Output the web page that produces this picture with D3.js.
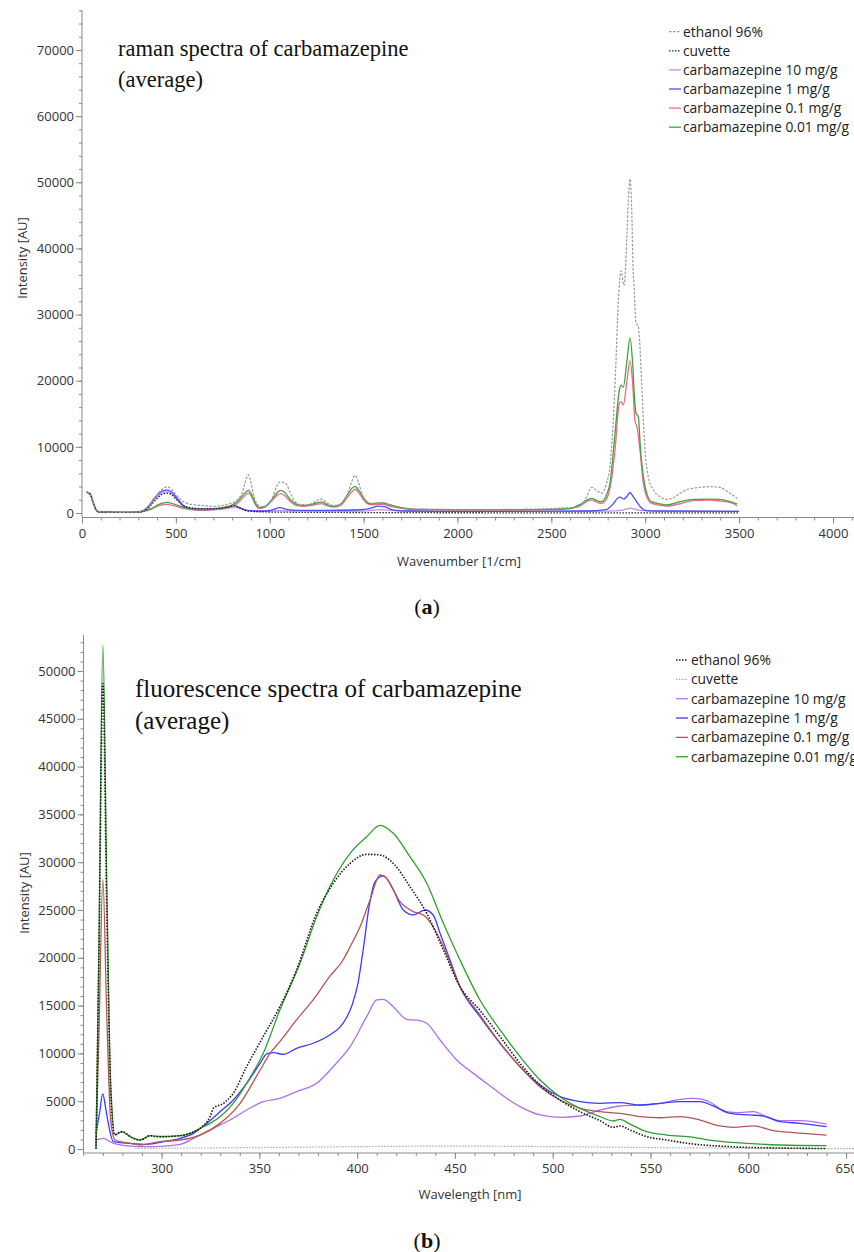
<!DOCTYPE html>
<html><head><meta charset="utf-8">
<script src="https://cdn.jsdelivr.net/npm/d3@7"></script>
<style>body{margin:0;background:#fff}svg{display:block}</style>
</head><body>
<svg id="chart" width="854" height="1252"></svg>
<script>
// ---------------- Panel (a): Raman spectra ----------------
const ramanSeriesNames = ["ethanol 96%", "cuvette", "carbamazepine 10 mg/g", "carbamazepine 1 mg/g", "carbamazepine 0.1 mg/g", "carbamazepine 0.01 mg/g"];
const ramanXTicks = [0, 500, 1000, 1500, 2000, 2500, 3000, 3500, 4000];
const ramanYTicks = [0, 10000, 20000, 30000, 40000, 50000, 60000, 70000];

const ramanEthanol = [[25,3150],[45,2800],[60,1600],[75,500],[90,200],[120,150],[200,100],[280,120],[320,300],[350,900],[380,1900],[410,3100],[440,3850],[455,3950],[475,3650],[500,2800],[530,1900],[560,1450],[600,1250],[650,1100],[700,1000],[750,1150],[790,1450],[830,2100],[855,3200],[875,5200],[886,5800],[898,4800],[915,2600],[935,1300],[955,950],[980,1050],[1010,2000],[1035,3900],[1055,4700],[1075,4600],[1090,4300],[1110,3000],[1135,1700],[1170,1250],[1210,1300],[1245,1750],[1270,2150],[1290,1900],[1315,1350],[1345,1150],[1380,1400],[1410,2600],[1435,4600],[1454,5700],[1470,4800],[1495,2700],[1520,1650],[1545,1450],[1575,1550],[1600,1600],[1640,1300],[1700,850],[1780,600],[1900,550],[2100,520],[2300,550],[2480,650],[2560,750],[2640,900],[2680,2000],[2715,3880],[2745,3300],[2768,3000],[2795,4600],[2812,7000],[2828,13000],[2840,20000],[2857,32000],[2871,36600],[2887,34400],[2903,42200],[2910,47300],[2919,50500],[2929,44700],[2935,37200],[2940,34700],[2951,28600],[2962,28300],[2970,26000],[2981,19600],[2990,14000],[2999,9500],[3016,5500],[3043,3500],[3079,2450],[3114,2050],[3150,2300],[3185,2950],[3220,3500],[3256,3750],[3300,3900],[3345,3980],[3398,3880],[3430,3400],[3451,3000],[3490,2200]];
const ramanCuvette = [[25,3150],[45,2800],[60,1600],[75,500],[90,150],[150,100],[250,80],[310,150],[350,700],[390,1900],[425,2800],[450,3000],[475,2800],[505,2000],[540,1150],[580,800],[650,650],[720,700],[780,900],[810,1100],[840,800],[880,300],[950,180],[1100,120],[1400,80],[1700,50],[2500,30],[3000,30],[3500,30]];
const ramanC10 = [[25,3100],[45,2800],[60,1500],[75,450],[90,150],[150,100],[250,80],[310,150],[350,800],[390,2200],[425,3000],[450,3200],[475,3000],[505,2100],[540,1000],[580,600],[650,450],[720,500],[780,750],[810,900],[840,700],[880,350],[950,250],[1050,350],[1200,300],[1500,300],[1590,500],[1700,300],[2000,250],[2500,250],[2800,280],[2880,450],[2920,700],[2960,450],[3050,280],[3500,250]];
const ramanC1 = [[25,3150],[45,2800],[60,1600],[75,500],[90,200],[150,150],[250,100],[310,200],[350,900],[390,2400],[425,3300],[450,3450],[475,3250],[505,2300],[540,1100],[580,700],[650,600],[720,650],[780,950],[810,1150],[840,800],[880,400],[950,300],[1010,450],[1055,800],[1090,550],[1150,400],[1300,400],[1450,450],[1530,650],[1580,1050],[1610,950],[1660,450],[1750,300],[2000,250],[2500,280],[2700,300],[2790,500],[2830,1400],[2855,2300],[2866,2400],[2885,2100],[2905,2600],[2919,3100],[2935,2500],[2955,1700],[2975,900],[3000,400],[3050,300],[3500,250]];
const ramanC01 = [[25,3100],[45,2700],[60,1500],[75,450],[90,150],[150,100],[250,80],[320,200],[370,600],[410,1100],[450,1310],[490,1100],[540,700],[600,450],[650,400],[700,500],[750,650],[790,900],[830,1500],[860,2400],[886,3030],[905,2400],[925,1200],[945,700],[975,900],[1010,1800],[1040,2700],[1058,2930],[1080,2600],[1110,1700],[1145,1100],[1180,1000],[1220,1150],[1255,1350],[1277,1410],[1300,1150],[1339,910],[1380,1200],[1415,2400],[1440,3300],[1454,3590],[1470,3200],[1500,2000],[1525,1350],[1545,1260],[1575,1300],[1600,1310],[1640,1050],[1700,700],[1780,500],[2000,450],[2300,450],[2500,500],[2600,650],[2660,1200],[2700,1900],[2715,1960],[2745,1600],[2768,1460],[2800,2500],[2820,5000],[2839,9500],[2862,16570],[2871,16820],[2883,16320],[2901,19590],[2919,23000],[2933,19590],[2945,14050],[2958,12790],[2972,9520],[2990,4480],[3008,2460],[3034,1460],[3080,1150],[3114,1060],[3185,1400],[3256,1860],[3345,1960],[3400,1800],[3451,1600],[3490,1110]];
const ramanC001 = [[25,3150],[45,2800],[60,1600],[75,500],[90,200],[150,150],[250,100],[320,250],[370,700],[410,1300],[450,1620],[490,1350],[540,850],[600,550],[650,500],[700,600],[750,800],[790,1100],[830,1800],[860,2800],[886,3430],[905,2700],[925,1400],[945,800],[975,1000],[1010,2000],[1040,3100],[1058,3430],[1080,3100],[1110,2000],[1145,1300],[1180,1160],[1220,1300],[1255,1550],[1277,1670],[1300,1350],[1339,1010],[1380,1400],[1415,2800],[1440,3800],[1454,4040],[1470,3600],[1500,2300],[1525,1500],[1545,1410],[1575,1480],[1600,1510],[1640,1200],[1700,800],[1780,550],[2000,500],[2300,500],[2500,560],[2600,700],[2660,1400],[2700,2100],[2715,2210],[2745,1850],[2768,1710],[2795,2800],[2812,4480],[2839,12000],[2862,18580],[2871,19340],[2883,18990],[2901,22600],[2919,26480],[2933,22600],[2945,16570],[2951,15060],[2963,14550],[2975,9520],[2990,5490],[3008,2970],[3034,1710],[3079,1360],[3114,1210],[3185,1710],[3256,2060],[3345,2110],[3398,2060],[3451,1710],[3490,1360]];

// ---------------- Panel (b): Fluorescence spectra ----------------
const fluoSeriesNames = ["ethanol 96%", "cuvette", "carbamazepine 10 mg/g", "carbamazepine 1 mg/g", "carbamazepine 0.1 mg/g", "carbamazepine 0.01 mg/g"];
const fluoXTicks = [300, 350, 400, 450, 500, 550, 600, 650];
const fluoYTicks = [0, 5000, 10000, 15000, 20000, 25000, 30000, 35000, 40000, 45000, 50000];

const fluoEthanol = [[266.5,0],[268,20000],[270,48700],[272,25000],[274,6000],[276,1500],[278,1700],[280,1820],[282,1600],[284,1290],[289,940],[292,1200],[294,1390],[297,1300],[300,1290],[309.5,1390],[314.6,1640],[319.7,2160],[324.8,3380],[326.5,4250],[331.6,4780],[336.7,5830],[343.5,8620],[352,11760],[360.5,14890],[369,18720],[379.3,24650],[387.8,27790],[396.4,29880],[404.9,30820],[411.7,30760],[418.5,29880],[427,27440],[435.6,24650],[444.1,20820],[452.6,16980],[462.8,14500],[473.1,11750],[483.3,8960],[493.5,6690],[503.7,5120],[514,3900],[524.2,2960],[531,2270],[534.4,2410],[539.5,1990],[548.1,1290],[558.3,940],[571.9,520],[590.6,240],[616.2,100],[640,50]];
const fluoCuvette = [[286.5,50],[300,80],[350,150],[400,250],[450,300],[500,250],[550,150],[600,80],[660,40]];
const fluoC10 = [[266.5,940],[270.3,1120],[272.5,900],[275.4,590],[284,310],[292.5,240],[301,310],[309.5,490],[318,1290],[326.5,2160],[335,3030],[343.5,4080],[352,4950],[360.5,5300],[369,6000],[379.3,6870],[387.8,8610],[396.4,10700],[404.9,13850],[410,15590],[413.4,15660],[418.5,14890],[425.3,13570],[432.1,13430],[435.6,13150],[442.4,11400],[450.9,9310],[459.4,7910],[469.6,6350],[476.4,5300],[483.3,4430],[493.5,3560],[503.7,3310],[514,3450],[524.2,4080],[534.4,4500],[544.7,4600],[554.9,4780],[565.1,5200],[571.9,5300],[578.7,5070],[588.9,3900],[595,3800],[602.6,3900],[609.4,3380],[616.2,2960],[626.4,2960],[640,2610]];
const fluoC1 = [[266.5,1640],[268.5,4000],[269.9,5800],[271.5,4200],[272.8,2680],[275.4,770],[284,590],[292.5,490],[301,770],[309.5,1120],[316.3,1640],[323.1,2680],[329.9,3900],[336.7,5130],[343.5,6870],[350.4,8960],[353.8,9940],[357.2,10080],[362.3,9900],[369,10530],[377.5,11060],[386,11930],[391,12700],[394.5,13700],[397.5,15100],[400.5,17400],[403.2,21000],[406,25200],[409,27900],[413.4,28560],[418.5,27090],[423.6,25000],[428.7,24480],[434.7,25000],[438.9,24480],[442.4,22560],[447.5,19770],[452.6,16980],[462.8,13840],[473.1,11060],[483.3,8610],[493.5,6690],[503.7,5470],[514,4950],[524.2,4780],[534.4,4850],[544.7,4600],[554.9,4780],[565.1,4950],[575.3,4950],[582.1,4500],[590.6,3730],[600.9,3560],[607.7,3450],[616.2,2860],[626.4,2690],[640,2330]];
const fluoC01 = [[266.5,300],[268,12000],[270,28200],[272,14000],[274,3000],[276.3,940],[284,590],[289,420],[299.3,770],[309.5,940],[319.7,1460],[329.9,2680],[340.2,4780],[350.4,8260],[355.5,10010],[360.5,11230],[369,13500],[377.5,15600],[386,18050],[392.8,19770],[396.4,21160],[401.5,23250],[406.6,26050],[411.7,28660],[415.1,28310],[421.9,25870],[428.7,24830],[433.8,24480],[438.9,23250],[444.1,21160],[452.6,16980],[462.8,14020],[473.1,11060],[483.3,8610],[493.5,6520],[503.7,5120],[514,4250],[524.2,3900],[534.4,3730],[544.7,3380],[554.9,3270],[565.1,3380],[575.3,3030],[585.5,2410],[592.4,2270],[602.6,2410],[612.8,1920],[623,1710],[640,1460]];
const fluoC001 = [[266.5,0],[268,22000],[270,52700],[272,28000],[274,7000],[276.3,1464],[279.7,1820],[284,1290],[289,940],[294.2,1390],[299.3,1290],[309.5,1390],[314.6,1640],[319.7,2160],[324.8,2680],[329.9,3380],[336.7,4780],[343.5,6870],[352,10010],[360.5,14540],[370.8,19420],[379.3,24300],[387.8,28140],[396.4,30930],[404.9,32670],[411.7,33860],[418.5,33020],[427,30580],[435.6,27790],[444.1,23610],[452.6,19770],[462.8,15590],[473.1,12450],[483.3,9660],[493.5,7220],[503.7,5470],[514,4250],[524.2,3380],[531,2930],[534.4,3100],[539.5,2610],[548.1,1810],[558.3,1460],[571.9,1220],[582.1,870],[599.2,590],[616.2,420],[640,350]];

// ---------------- drawing ----------------
const svg = d3.select("#chart");
const SANS = "'Open Sans', 'Noto Sans', sans-serif";
const SERIF = "'Liberation Serif', 'DejaVu Serif', serif";
const AXIS_COLOR = "#8a8a8a";
const TEXT_COLOR = "#333";

function drawPanel(cfg) {
  const g = svg.append("g");
  const x = cfg.x, y = cfg.y;
  const clipId = cfg.id + "-clip";
  svg.append("defs").append("clipPath").attr("id", clipId)
    .append("rect").attr("x", cfg.axisX).attr("y", cfg.axisTop)
    .attr("width", 854 - cfg.axisX).attr("height", cfg.axisY - cfg.axisTop);

  const xMinor = d3.axisBottom(x).tickValues(cfg.xMinor).tickSize(3).tickFormat("");
  const xm = g.append("g").attr("transform", `translate(0,${cfg.axisY})`).call(xMinor);
  xm.select(".domain").remove();
  xm.selectAll("line").attr("stroke", AXIS_COLOR);
  const xMajor = d3.axisBottom(x).tickValues(cfg.xTicks).tickSize(6).tickPadding(cfg.xPad).tickFormat(d3.format("d"));
  const xa = g.append("g").attr("transform", `translate(0,${cfg.axisY})`).call(xMajor);
  xa.select(".domain").remove();
  xa.selectAll("line").attr("stroke", AXIS_COLOR);
  xa.selectAll("text").attr("fill", TEXT_COLOR).style("font-family", SANS).style("font-size", "13px");

  const yMinor = d3.axisLeft(y).tickValues(cfg.yMinor).tickSize(3).tickFormat("");
  const ym = g.append("g").attr("transform", `translate(${cfg.axisX},0)`).call(yMinor);
  ym.select(".domain").remove();
  ym.selectAll("line").attr("stroke", AXIS_COLOR);
  const yMajor = d3.axisLeft(y).tickValues(cfg.yTicks).tickSize(6).tickPadding(2).tickFormat(d3.format("d"));
  const ya = g.append("g").attr("transform", `translate(${cfg.axisX},0)`).call(yMajor);
  ya.select(".domain").remove();
  ya.selectAll("line").attr("stroke", AXIS_COLOR);
  ya.selectAll("text").attr("fill", TEXT_COLOR).style("font-family", SANS).style("font-size", "13px");

  g.append("line").attr("x1", cfg.axisX).attr("x2", cfg.axisX).attr("y1", cfg.axisTop).attr("y2", cfg.axisY)
    .attr("stroke", AXIS_COLOR).attr("stroke-width", 1);
  g.append("line").attr("x1", cfg.axisX).attr("x2", 854).attr("y1", cfg.axisY).attr("y2", cfg.axisY)
    .attr("stroke", AXIS_COLOR).attr("stroke-width", 1);

  const line = d3.line().x(d => x(d[0])).y(d => y(d[1])).curve(d3.curveMonotoneX);
  const plot = g.append("g").attr("clip-path", `url(#${clipId})`);
  cfg.drawOrder.forEach(i => {
    const s = cfg.series[i];
    plot.append("path").datum(s.data).attr("d", line)
      .attr("fill", "none").attr("stroke", s.color).attr("stroke-width", s.width)
      .attr("stroke-dasharray", s.dash || null).attr("stroke-linejoin", "round");
  });

  cfg.series.forEach((s, i) => {
    const ly = cfg.legend.y0 + i * cfg.legend.dy;
    g.append("line").attr("x1", cfg.legend.x1).attr("x2", cfg.legend.x2).attr("y1", ly).attr("y2", ly)
      .attr("stroke", s.color).attr("stroke-width", s.width).attr("stroke-dasharray", s.dash || null);
    g.append("text").attr("x", cfg.legend.tx).attr("y", ly).attr("dy", "0.35em")
      .attr("fill", "#222").style("font-family", SANS).style("font-size", "13.8px").text(s.name);
  });

  cfg.title.lines.forEach((t, i) => {
    g.append("text").attr("x", cfg.title.x).attr("y", cfg.title.y + i * cfg.title.dy).attr("dy", "0.35em")
      .attr("fill", "#111").style("font-family", SERIF).style("font-size", cfg.title.size + "px").text(t);
  });

  g.append("text").attr("x", cfg.xLabel.x).attr("y", cfg.xLabel.y).attr("dy", "0.35em").attr("text-anchor", "middle")
    .attr("fill", TEXT_COLOR).style("font-family", SANS).style("font-size", "13px").text(cfg.xLabel.text);
  g.append("text").attr("transform", `translate(${cfg.yLabel.x},${cfg.yLabel.y}) rotate(-90)`).attr("dy", "0.35em")
    .attr("text-anchor", "middle").attr("fill", TEXT_COLOR).style("font-family", SANS).style("font-size", "13px")
    .text(cfg.yLabel.text);

  const pl = g.append("text").attr("x", cfg.letter.x).attr("y", cfg.letter.y).attr("dy", "0.35em").attr("text-anchor", "middle")
    .attr("fill", "#111").style("font-family", SERIF).style("font-size", "22px");
  pl.append("tspan").text("(");
  pl.append("tspan").attr("font-weight", "bold").text(cfg.letter.text);
  pl.append("tspan").text(")");
}

// Panel (a)
const xA = d3.scaleLinear().domain([0, 4112]).range([82, 854]);
const yA = d3.scaleLinear().domain([0, 76000]).range([513, 10.3]);
drawPanel({
  id: "a", x: xA, y: yA, axisX: 82, axisY: 517.5, axisTop: 10, xPad: 5,
  xTicks: ramanXTicks, yTicks: ramanYTicks,
  xMinor: d3.range(0, 4101, 100), yMinor: d3.range(0, 76001, 2000),
  series: [
    {name: ramanSeriesNames[0], data: ramanEthanol, color: "#9a9a9a", width: 1.2, dash: "2.5,1.5"},
    {name: ramanSeriesNames[1], data: ramanCuvette, color: "#222", width: 1.3, dash: "1.5,1.5"},
    {name: ramanSeriesNames[2], data: ramanC10, color: "#c38af2", width: 1.3},
    {name: ramanSeriesNames[3], data: ramanC1, color: "#4d4dff", width: 1.3},
    {name: ramanSeriesNames[4], data: ramanC01, color: "#ef6a86", width: 1.3},
    {name: ramanSeriesNames[5], data: ramanC001, color: "#3fa33f", width: 1.3}
  ],
  drawOrder: [2, 3, 4, 5, 1, 0],
  legend: {x1: 669, x2: 681, tx: 683, y0: 31.7, dy: 19.1},
  title: {x: 118, y: 48, dy: 31, size: 22.5, lines: ["raman spectra of carbamazepine", "(average)"]},
  xLabel: {x: 459, y: 561, text: "Wavenumber [1/cm]"},
  yLabel: {x: 22, y: 258, text: "Intensity [AU]"},
  letter: {x: 427, y: 606, text: "a"}
});

// Panel (b)
const xB = d3.scaleLinear().domain([260, 300 + (854 - 161.5) / 1.956]).range([83.3, 854]);
const yB = d3.scaleLinear().domain([0, 53766]).range([1149, 635]);
drawPanel({
  id: "b", x: xB, y: yB, axisX: 83.5, axisY: 1153, axisTop: 635, xPad: 5,
  xTicks: fluoXTicks, yTicks: fluoYTicks,
  xMinor: d3.range(260, 655, 10), yMinor: d3.range(0, 53001, 1000),
  series: [
    {name: fluoSeriesNames[0], data: fluoEthanol, color: "#1a1a1a", width: 1.6, dash: "1.5,1.5"},
    {name: fluoSeriesNames[1], data: fluoCuvette, color: "#aaaaaa", width: 1.2, dash: "1.5,1.5"},
    {name: fluoSeriesNames[2], data: fluoC10, color: "#b070ee", width: 1.3},
    {name: fluoSeriesNames[3], data: fluoC1, color: "#3b3bff", width: 1.3},
    {name: fluoSeriesNames[4], data: fluoC01, color: "#b55555", width: 1.3},
    {name: fluoSeriesNames[5], data: fluoC001, color: "#2f9f2f", width: 1.3}
  ],
  drawOrder: [1, 2, 3, 4, 5, 0],
  legend: {x1: 676, x2: 688, tx: 691, y0: 660, dy: 19.35},
  title: {x: 135, y: 688, dy: 32, size: 25, lines: ["fluorescence spectra of carbamazepine", "(average)"]},
  xLabel: {x: 470, y: 1194, text: "Wavelength [nm]"},
  yLabel: {x: 24, y: 893, text: "Intensity [AU]"},
  letter: {x: 427, y: 1240, text: "b"}
});
</script>
</body></html>
